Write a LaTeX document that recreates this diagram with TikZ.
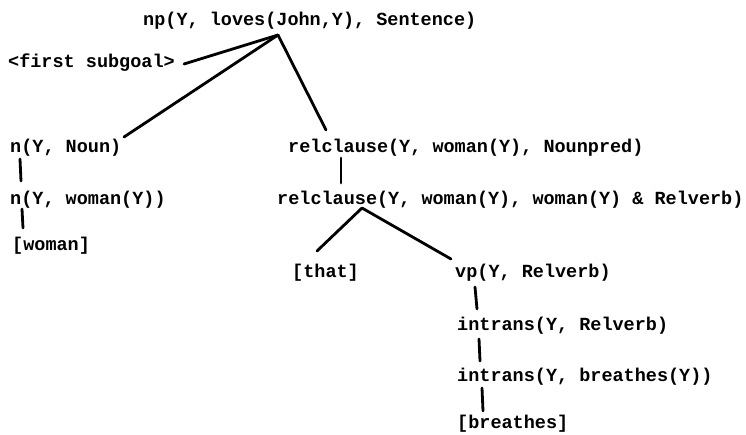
\documentclass[tikz,border=0pt]{standalone}
\usepackage{fontspec}
\setmonofont{Liberation Mono}
\usetikzlibrary{calc}
\begin{document}
\begin{tikzpicture}[x=1pt,y=-1pt,
  term/.style={anchor=base west, inner sep=0pt,
    font=\ttfamily\bfseries\fontsize{18.5}{21}\selectfont},
  branch/.style={line width=2.8pt, line cap=round, line join=round}]
\useasboundingbox (0,0) rectangle (746,434);

% goal nodes
\node[term] (root)     at (143,25)  {np(Y, loves(John,Y), Sentence)};
\node[term] (first)    at (8,67)    {<first subgoal>};
\node[term] (nnoun)    at (10,152)  {n(Y, Noun)};
\node[term] (nwoman)   at (10,204)  {n(Y, woman(Y))};
\node[term] (woman)    at (12,250)  {[woman]};
\node[term] (rel1)     at (288,152) {relclause(Y, woman(Y), Nounpred)};
\node[term] (rel2)     at (277,204) {relclause(Y, woman(Y), woman(Y) \& Relverb)};
\node[term] (that)     at (292,277) {[that]};
\node[term] (vp)       at (455,277) {vp(Y, Relverb)};
\node[term] (intr1)    at (457,330) {intrans(Y, Relverb)};
\node[term] (intr2)    at (457,381) {intrans(Y, breathes(Y))};
\node[term] (breathes) at (457,428) {[breathes]};

% branching points below the parents
\coordinate (rootfoot) at ($(root.base west)+(135,10)$);
\coordinate (relfoot)  at ($(rel2.base west)+(85,4)$);

% branches
\draw[branch] (rootfoot) -- ($(first.base west)+(176,-3)$);
\draw[branch] (rootfoot) -- ($(nnoun.base west)+(114,-15)$);
\draw[branch] (rootfoot) -- ($(rel1.base west)+(38,-22)$);
\draw[branch] ($(nnoun.base west)+(10,7)$) -- ($(nwoman.base west)+(11,-23)$);
\draw[branch] ($(nwoman.base west)+(12,5)$) -- ($(woman.base west)+(11,-22)$);
\draw[branch] ($(rel1.base west)+(53,6)$) -- ($(rel2.base west)+(64,-21)$);
\draw[branch] (relfoot) -- ($(that.base west)+(25,-26)$);
\draw[branch] (relfoot) -- ($(vp.base west)+(-4,-18)$);
\draw[branch] ($(vp.base west)+(20,10)$) -- ($(intr1.base west)+(20,-21)$);
\draw[branch] ($(intr1.base west)+(22,9)$) -- ($(intr2.base west)+(23,-20)$);
\draw[branch] ($(intr2.base west)+(25,7)$) -- ($(breathes.base west)+(26,-17)$);
\end{tikzpicture}
\end{document}
